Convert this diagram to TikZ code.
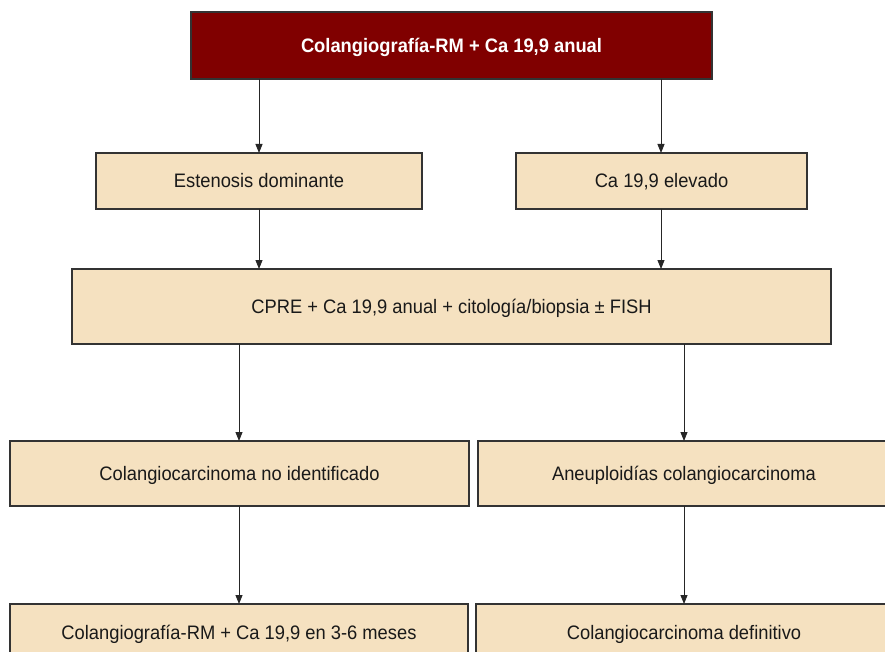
\documentclass[tikz,border=0pt]{standalone}
\usepackage{fontspec}
\setmainfont{Liberation Sans}[FakeStretch=0.94]
\usetikzlibrary{arrows.meta}
\definecolor{boxfill}{HTML}{F5E1C0}
\definecolor{topfill}{HTML}{800000}
\definecolor{edge}{HTML}{333333}
\begin{document}
\begin{tikzpicture}[x=1pt,y=-1pt,
  box/.style={draw=edge, line width=1.1pt, fill=boxfill, inner sep=0pt, outer sep=0pt,
    text height=14pt, text depth=0pt,
    font=\fontsize{19.5}{22}\selectfont, text=black!90},
  topbox/.style={box, fill=topfill, text=white, font=\fontsize{19.5}{22}\selectfont\bfseries},
  arr/.style={draw=black!85, line width=0.9pt, -{Triangle[length=9pt,width=7pt]}}]
\useasboundingbox (0,0) rectangle (885,652);
\node[topbox, minimum width=521pt, minimum height=67pt] (top) at (451.5,45.5) {Colangiografía-RM + Ca 19,9 anual};
\node[box, minimum width=326pt, minimum height=56pt] (est) at (259,181) {Estenosis dominante};
\node[box, minimum width=291pt, minimum height=56pt] (ca) at (661.5,181) {Ca 19,9 elevado};
\node[box, minimum width=759pt, minimum height=75pt] (cpre) at (451.5,306.5) {CPRE + Ca 19,9 anual + citología/biopsia ± FISH};
\node[box, minimum width=459pt, minimum height=65pt] (nid) at (239.5,473.5) {Colangiocarcinoma no identificado};
\node[box, minimum width=412pt, minimum height=65pt] (aneu) at (684,473.5) {Aneuploidías colangiocarcinoma};
\node[box, minimum width=458pt, minimum height=56pt] (bl) at (239,632) {Colangiografía-RM + Ca 19,9 en 3-6 meses};
\node[box, minimum width=416pt, minimum height=56pt] (br) at (684,632) {Colangiocarcinoma definitivo};
\coordinate (x1) at (259,0);
\coordinate (x2) at (661,0);
\coordinate (x3) at (239,0);
\coordinate (x4) at (684,0);
\draw[arr] (top.south -| x1) -- (est.north -| x1);
\draw[arr] (top.south -| x2) -- (ca.north -| x2);
\draw[arr] (est.south -| x1) -- (cpre.north -| x1);
\draw[arr] (ca.south -| x2) -- (cpre.north -| x2);
\draw[arr] (cpre.south -| x3) -- (nid.north -| x3);
\draw[arr] (cpre.south -| x4) -- (aneu.north -| x4);
\draw[arr] (nid.south -| x3) -- (bl.north -| x3);
\draw[arr] (aneu.south -| x4) -- (br.north -| x4);
\end{tikzpicture}
\end{document}
